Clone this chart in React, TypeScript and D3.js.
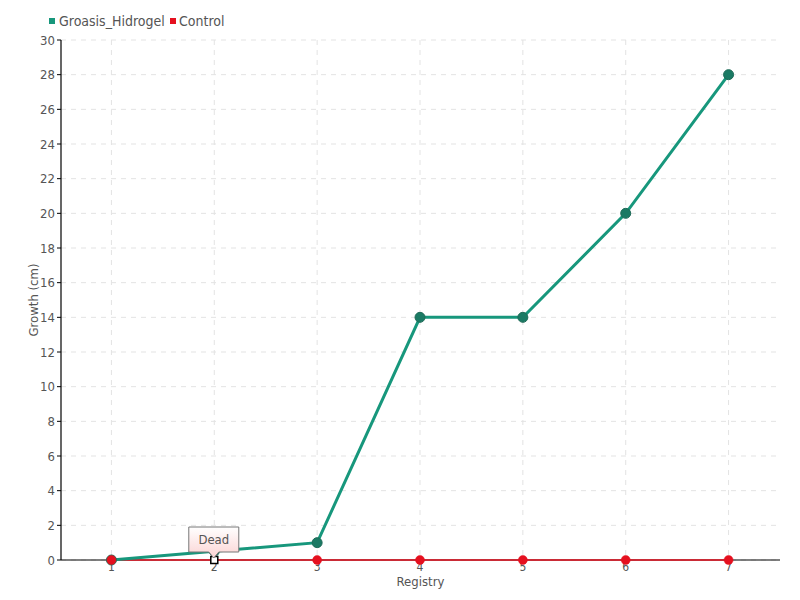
import React from "react";
import * as d3 from "d3";

const categories = ["1", "2", "3", "4", "5", "6", "7"];
const groasisValues = [0, 0.5, 1, 14, 14, 20, 28];
const controlValues = [0, 0, 0, 0, 0, 0, 0];
const yTicks = [0, 2, 4, 6, 8, 10, 12, 14, 16, 18, 20, 22, 24, 26, 28, 30];
const seriesNames = ["Groasis_Hidrogel", "Control"];
const annotationIndex = 1;
const annotationText = "Dead";

const W = 800;
const H = 600;
const M = { left: 61, right: 20, top: 40, bottom: 40 };
const FONT = "'DejaVu Sans Condensed', 'Liberation Sans Narrow', 'Roboto Condensed', sans-serif";
const GREEN = "#17977c";
const GREEN_DARK = "#1b7a64";
const RED = "#e5101f";

export default function App() {
  const x = d3
    .scaleBand<string>()
    .domain(categories)
    .range([M.left - 1, W - M.right])
    .padding(0);
  const cx = (c: string) => (x(c) as number) + x.bandwidth() / 2;
  const y = d3.scaleLinear().domain([0, 30]).range([H - M.bottom, M.top]);

  const line = d3
    .line<number>()
    .x((_, i) => cx(categories[i]))
    .y((d) => y(d));

  const ax = cx(categories[annotationIndex]);
  const ay = y(controlValues[annotationIndex]);
  const bw = 50;
  const bh = 25;
  const bx = ax - bw / 2 - 0.5;
  const by = ay - 33;

  return (
    <svg width={W} height={H} style={{ display: "block", position: "absolute", left: 0, top: 0 }} fontFamily={FONT}>
      <defs>
        <linearGradient id="tipGrad" x1="0" y1="0" x2="0" y2="1">
          <stop offset="0%" stopColor="#ffffff" />
          <stop offset="100%" stopColor="#fbd3d3" />
        </linearGradient>
      </defs>
      <rect width={W} height={H} fill="#fff" />
      {/* grid */}
      {yTicks.map((t) => (
        <line key={"gy" + t} x1={M.left} x2={W - M.right} y1={y(t)} y2={y(t)} stroke="#e3e3e3" strokeDasharray="5,5" strokeWidth={1} />
      ))}
      {categories.map((c) => (
        <line key={"gx" + c} x1={cx(c)} x2={cx(c)} y1={M.top} y2={H - M.bottom} stroke="#e3e3e3" strokeDasharray="5,5" strokeWidth={1} />
      ))}
      {/* axes */}
      <line x1={M.left} x2={M.left} y1={M.top} y2={H - M.bottom} stroke="#000" strokeWidth={1.2} />
      <line x1={M.left} x2={W - M.right} y1={H - M.bottom} y2={H - M.bottom} stroke="#000" strokeWidth={1.2} />
      {yTicks.map((t) => (
        <g key={"ty" + t}>
          <line x1={M.left - 4} x2={M.left} y1={y(t)} y2={y(t)} stroke="#000" />
          <text x={M.left - 6} y={y(t)} dy="0.35em" textAnchor="end" fontSize={13} fill="#555">
            {t}
          </text>
        </g>
      ))}
      {categories.map((c) => (
        <text key={"tx" + c} x={cx(c)} y={H - M.bottom + 11} textAnchor="middle" fontSize={12} fill="#555">
          {c}
        </text>
      ))}
      <text x={(M.left + W - M.right) / 2} y={586} textAnchor="middle" fontSize={13} fill="#555">
        Registry
      </text>
      <text transform={`translate(38, ${(M.top + H - M.bottom) / 2}) rotate(-90)`} textAnchor="middle" fontSize={13} fill="#555">
        Growth (cm)
      </text>
      {/* control series */}
      <path d={line(controlValues) || ""} fill="none" stroke={RED} strokeWidth={1.5} />
      {/* groasis series */}
      <path d={line(groasisValues) || ""} fill="none" stroke={GREEN} strokeWidth={3} />
      {groasisValues.map((v, i) => (
        <circle key={"g" + i} cx={cx(categories[i])} cy={y(v)} r={5} fill={GREEN_DARK} stroke="#1f6b58" strokeWidth={1} />
      ))}
      {controlValues.map((v, i) =>
        i === annotationIndex ? (
          <rect key={"c" + i} x={cx(categories[i]) - 3.5} y={y(v) - 3.5} width={7} height={7} fill="#fff" stroke="#000" strokeWidth={1.5} />
        ) : (
          <circle key={"c" + i} cx={cx(categories[i])} cy={y(v)} r={4.5} fill={RED} stroke={RED} strokeWidth={0.5} />
        )
      )}
      {/* annotation */}
      <path
        d={`M${bx},${by} h${bw} v${bh} h${-(bw / 2 - 5)} l-5,6 l-5,-6 h${-(bw / 2 - 5)} Z`}
        fill="url(#tipGrad)"
        stroke="#777"
        strokeWidth={1}
      />
      <text x={bx + bw / 2} y={by + 17} textAnchor="middle" fontSize={13} fill="#555">
        {annotationText}
      </text>
      {/* legend */}
      <rect x={49} y={18} width={6} height={6} fill={GREEN} />
      <text x={59} y={26} fontSize={14} fill="#555">
        {seriesNames[0]}
      </text>
      <rect x={170} y={18} width={6} height={6} fill={RED} />
      <text x={179} y={26} fontSize={14} fill="#555">
        {seriesNames[1]}
      </text>
    </svg>
  );
}
